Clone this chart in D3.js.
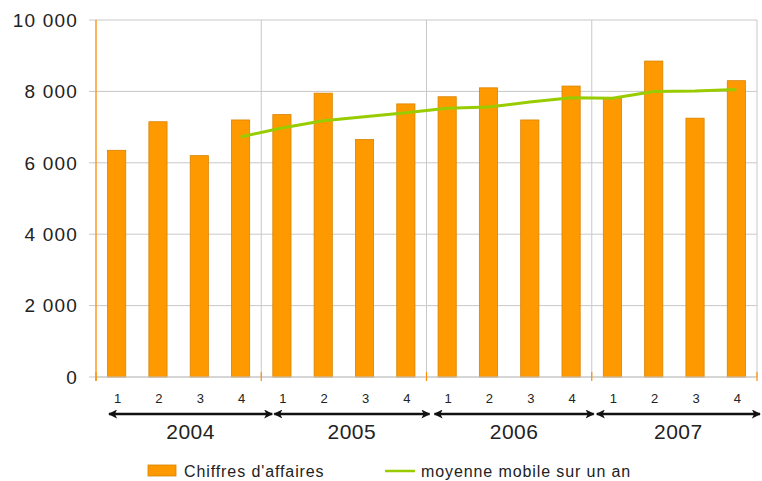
<!DOCTYPE html>
<html><head><meta charset="utf-8">
<script src="https://cdn.jsdelivr.net/npm/d3@7"></script>
<style>
html,body{margin:0;padding:0;background:#fff;}
svg{display:block;font-family:"Liberation Sans",Arial,sans-serif;}
</style></head>
<body><svg id="c" width="762" height="481"></svg>
<script>
const years = ["2004","2005","2006","2007"];
const quarters = ["1","2","3","4"];
const sales = [6350,7150,6200,7200, 7350,7950,6650,7650, 7850,8100,7200,8150, 7800,8850,7250,8300];
// moving average (one year), starting at 2004 Q4
const movingAvg = [null,null,null,6725, 6975,7175,7290,7400, 7525,7560,7700,7825, 7810,8000,8010,8050];
const yTicks = [0,2000,4000,6000,8000,10000];
const legendLabels = ["Chiffres d'affaires","moyenne mobile sur un an"];

const svg = d3.select("#c");
const L=96, R=757, T=20, B=377;
const keys = [];
years.forEach(y=>quarters.forEach(q=>keys.push(y+"-"+q)));
const x = d3.scaleBand().domain(keys).range([L,R]).paddingInner(0.56).paddingOuter(0.28);
const xYear = d3.scaleBand().domain(years).range([L,R]);
const y = d3.scaleLinear().domain([0,10000]).range([B,T]);
const fmt = v => d3.format(",")(v).replace(/,/g," ");

// horizontal gridlines
svg.append("g").selectAll("line").data(yTicks).join("line")
  .attr("x1",L-7).attr("x2",R).attr("y1",d=>y(d)).attr("y2",d=>y(d))
  .attr("stroke","#c8c8c8").attr("stroke-width",1);
// vertical gridlines at year boundaries
svg.append("g").selectAll("line").data(years).join("line")
  .attr("x1",d=>xYear(d)+xYear.bandwidth()).attr("x2",d=>xYear(d)+xYear.bandwidth())
  .attr("y1",T).attr("y2",B).attr("stroke","#c8c8c8").attr("stroke-width",1);

// y labels
svg.append("g").selectAll("text").data(yTicks).join("text")
  .attr("x",78).attr("y",d=>y(d)).attr("dy","0.36em").attr("text-anchor","end")
  .attr("font-size",19).attr("letter-spacing",1.2).attr("fill","#222").text(fmt);

// bars
svg.append("g").selectAll("rect").data(sales).join("rect")
  .attr("x",(d,i)=>x(keys[i])).attr("width",x.bandwidth())
  .attr("y",d=>y(d)).attr("height",d=>B-y(d))
  .attr("fill","#ff9900").attr("stroke","#d88300").attr("stroke-width",0.8);

// axes lines
svg.append("line").attr("x1",L).attr("x2",R).attr("y1",B).attr("y2",B).attr("stroke","#c8c8c8");
svg.append("line").attr("x1",L).attr("x2",L).attr("y1",T).attr("y2",B+4).attr("stroke","#ff8c00").attr("stroke-width",1.3);
svg.append("g").selectAll("line").data([0,1,2,3,4]).join("line")
  .attr("x1",i=>L+i*xYear.bandwidth()).attr("x2",i=>L+i*xYear.bandwidth())
  .attr("y1",B-5).attr("y2",B+4).attr("stroke","#ff8c00").attr("stroke-width",1.2);

// moving average line
const pts = movingAvg.map((v,i)=>({v,k:keys[i]})).filter(d=>d.v!==null);
svg.append("path").datum(pts)
  .attr("d",d3.line().x(d=>x(d.k)+x.bandwidth()/2).y(d=>y(d.v)))
  .attr("fill","none").attr("stroke","#99cc00").attr("stroke-width",3).attr("stroke-linejoin","round");

// quarter labels
svg.append("g").selectAll("text").data(keys).join("text")
  .attr("x",d=>x(d)+x.bandwidth()/2+1).attr("y",398).attr("dy","0.36em").attr("text-anchor","middle")
  .attr("font-size",13).attr("fill","#222").text(d=>d.split("-")[1]);

// year arrows
const defs = svg.append("defs");
defs.append("marker").attr("id","ah").attr("viewBox","0 0 10 10").attr("refX",9).attr("refY",5)
  .attr("markerWidth",3.6).attr("markerHeight",3.6).attr("orient","auto-start-reverse")
  .attr("markerUnits","strokeWidth")
  .append("path").attr("d","M0,0 L10,5 L0,10 L2.5,5 Z").attr("fill","#111");
const aOff = [[13,11],[13,3],[8,2],[5,3]];
const ag = svg.append("g");
years.forEach((yr,i)=>{
  const x1 = xYear(yr)+aOff[i][0], x2 = xYear(yr)+xYear.bandwidth()+aOff[i][1];
  ag.append("line").attr("x1",x1).attr("x2",x2).attr("y1",414).attr("y2",414)
    .attr("stroke","#111").attr("stroke-width",2.5)
    .attr("marker-start","url(#ah)").attr("marker-end","url(#ah)");
  ag.append("text").attr("x",(x1+x2)/2).attr("y",431).attr("dy","0.36em").attr("text-anchor","middle")
    .attr("font-size",21).attr("letter-spacing",0.5).attr("fill","#222").text(yr);
});

// legend
const lg = svg.append("g");
lg.append("rect").attr("x",148).attr("y",465).attr("width",28).attr("height",11)
  .attr("fill","#ff9900").attr("stroke","#d88300").attr("stroke-width",0.8);
lg.append("text").attr("x",184).attr("y",477).attr("font-size",16).attr("letter-spacing",0.9)
  .attr("fill","#222").text(legendLabels[0]);
lg.append("line").attr("x1",385).attr("x2",415).attr("y1",471).attr("y2",471)
  .attr("stroke","#99cc00").attr("stroke-width",2.5);
lg.append("text").attr("x",421).attr("y",477).attr("font-size",16).attr("letter-spacing",0.9)
  .attr("fill","#222").text(legendLabels[1]);
</script></body></html>
